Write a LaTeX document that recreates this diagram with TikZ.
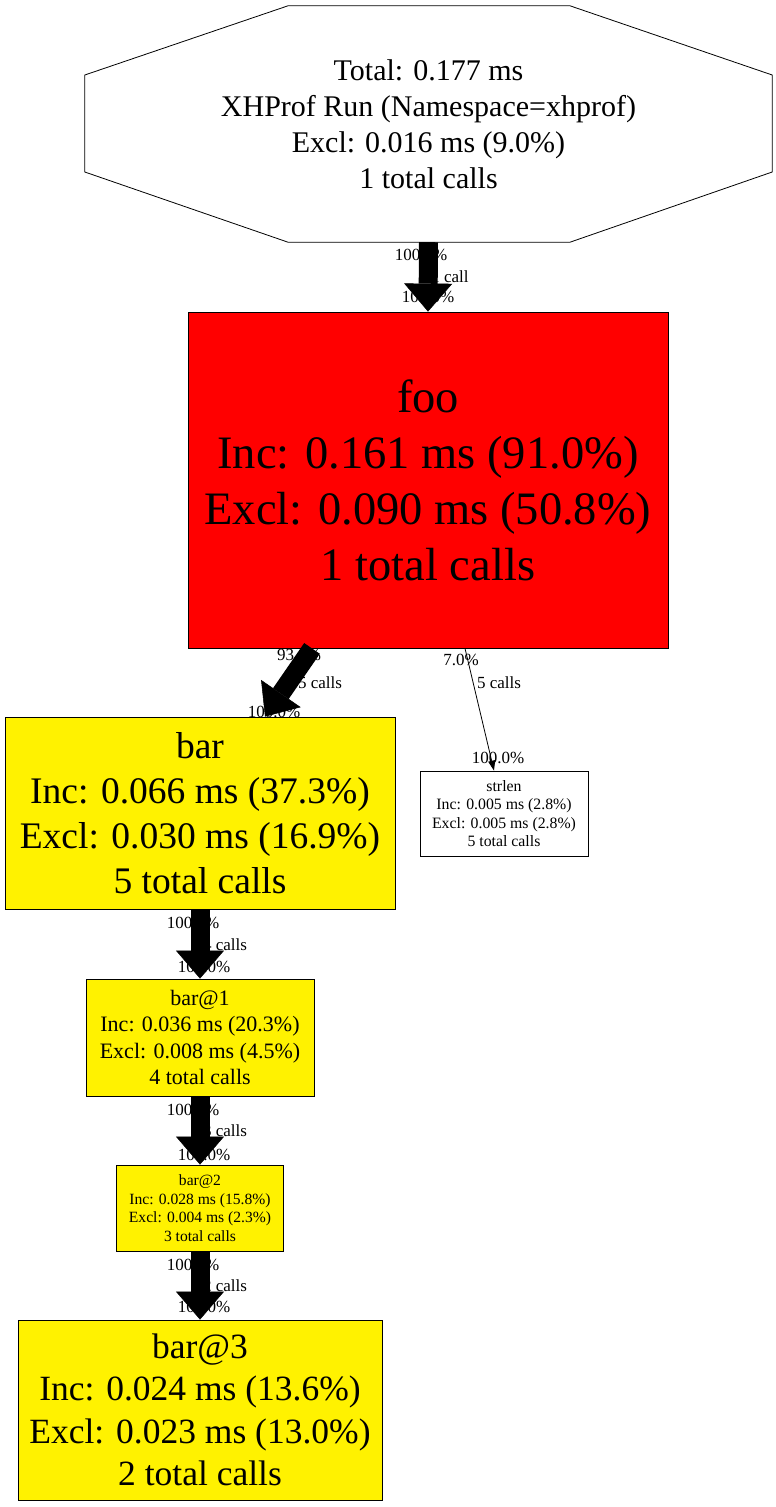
\documentclass[tikz,border=0pt]{standalone}
\usepackage{fontspec}
\setmainfont{Liberation Serif}
\usetikzlibrary{arrows.meta}
\tikzset{
      fn/.style={draw=black, line width=0.8, rectangle, inner sep=0, align=center},
      hot/.style={fn, fill=red},
      warm/.style={fn, fill=yellow},
      cold/.style={fn, fill=white},
      call/.style={draw=black, line width=19, -{Triangle[width=48pt,length=28pt,line width=0.5pt]}},
      thincall/.style={draw=black, line width=0.8, -{Triangle[width=7pt,length=10pt]}},
      elabel/.style={font=\fontsize{17}{20}\selectfont, inner sep=0},
}
\begin{document}
\begin{tikzpicture}[x=1pt, y=-1pt]
        \useasboundingbox (0,0) rectangle (776,1507);

        \node[inner sep=0, align=center, minimum width=687pt, minimum height=236pt,
              font=\fontsize{30}{36}\selectfont] (root) at (428.5,124)
              {Total: 0.177 ms\\XHProf Run (Namespace=xhprof)\\Excl: 0.016 ms (9.0\%)\\1 total calls};
        \draw[line width=0.8] ([xshift=-140.5pt]root.north) -- ([xshift=141.5pt]root.north)
              -- ([yshift=49pt]root.east) -- ([yshift=-48pt]root.east)
              -- ([xshift=141.5pt]root.south) -- ([xshift=-140.5pt]root.south)
              -- ([yshift=-48pt]root.west) -- ([yshift=49pt]root.west) -- cycle ;

        \node[hot, minimum width=480pt, minimum height=336pt, font=\fontsize{46.5}{56}\selectfont] (foo) at (428,480)
              {foo\\Inc: 0.161 ms (91.0\%)\\Excl: 0.090 ms (50.8\%)\\1 total calls};
        \node[warm, minimum width=390pt, minimum height=192pt, font=\fontsize{37.5}{45}\selectfont] (bar) at (200,813)
              {bar\\Inc: 0.066 ms (37.3\%)\\Excl: 0.030 ms (16.9\%)\\5 total calls};
        \node[cold, minimum width=168pt, minimum height=85pt, font=\fontsize{15.8}{18.5}\selectfont] (strlen) at (504,813.5)
              {strlen\\Inc: 0.005 ms (2.8\%)\\Excl: 0.005 ms (2.8\%)\\5 total calls};
        \node[warm, minimum width=228pt, minimum height=117pt, font=\fontsize{22}{26.5}\selectfont] (bar1) at (200,1037.5)
              {bar@1\\Inc: 0.036 ms (20.3\%)\\Excl: 0.008 ms (4.5\%)\\4 total calls};
        \node[warm, minimum width=167pt, minimum height=86pt, font=\fontsize{15.6}{18.5}\selectfont] (bar2) at (200,1208)
              {bar@2\\Inc: 0.028 ms (15.8\%)\\Excl: 0.004 ms (2.3\%)\\3 total calls};
        \node[warm, minimum width=364pt, minimum height=180pt, font=\fontsize{35.5}{42.5}\selectfont] (bar3) at (200,1410)
              {bar@3\\Inc: 0.024 ms (13.6\%)\\Excl: 0.023 ms (13.0\%)\\2 total calls};

        % edge labels
        \node[elabel] (rf-tail) at (421,255) {100.0\%};
        \node[elabel] (rf-mid)  at (450,277) {1 call};
        \node[elabel] (rf-head) at (428,297) {100.0\%};

        \node[elabel] (fb-tail) at (299,655) {93.0\%};
        \node[elabel] (fb-mid)  at (320,683) {5 calls};
        \node[elabel] (fb-head) at (274,712) {100.0\%};

        \node[elabel] (fs-tail) at (461,660) {7.0\%};
        \node[elabel] (fs-mid)  at (499,683) {5 calls};
        \node[elabel] (fs-head) at (498,758) {100.0\%};

        \node[elabel] (bb1-tail) at (193,923) {100.0\%};
        \node[elabel] (bb1-mid)  at (225,945) {4 calls};
        \node[elabel] (bb1-head) at (204,967) {100.0\%};

        \node[elabel] (b12-tail) at (193,1110) {100.0\%};
        \node[elabel] (b12-mid)  at (225,1131) {3 calls};
        \node[elabel] (b12-head) at (204,1155) {100.0\%};

        \node[elabel] (b23-tail) at (193,1265) {100.0\%};
        \node[elabel] (b23-mid)  at (225,1286) {2 calls};
        \node[elabel] (b23-head) at (204,1307) {100.0\%};

        % calls
        \draw[call] (root.south) -- (foo.north) ;
        \draw[call] ([xshift=-116pt]foo.south) -- ([xshift=65pt]bar.north) ;
        \draw[thincall] ([xshift=37pt]foo.south) -- ([xshift=-10pt]strlen.north) ;
        \draw[call] (bar.south) -- (bar1.north) ;
        \draw[call] (bar1.south) -- (bar2.north) ;
        \draw[call] (bar2.south) -- (bar3.north) ;

\end{tikzpicture}
\end{document}
